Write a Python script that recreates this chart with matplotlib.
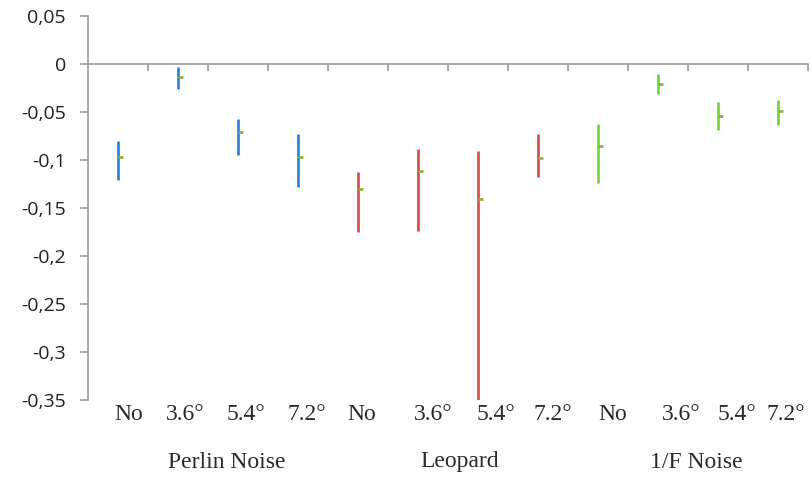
import matplotlib
matplotlib.use("Agg")
import matplotlib.pyplot as plt
from matplotlib.ticker import FixedLocator, FuncFormatter
from matplotlib.markers import TICKRIGHT

plt.rcParams["font.family"] = ["Open Sans", "DejaVu Sans"]

# Data: high-low ranges with a central value per condition
groups = ["Perlin Noise", "Leopard", "1/F Noise"]
conditions = ["No", "3.6°", "5.4°", "7.2°"]
high = [-0.080, -0.003, -0.057, -0.073,
        -0.112, -0.089, -0.091, -0.073,
        -0.062, -0.010, -0.040, -0.037]
low = [-0.121, -0.026, -0.095, -0.128,
       -0.175, -0.174, -0.350, -0.118,
       -0.124, -0.031, -0.069, -0.064]
mid = [-0.097, -0.014, -0.071, -0.097,
       -0.130, -0.111, -0.141, -0.098,
       -0.085, -0.021, -0.054, -0.049]
group_colors = ["#2a7dd4", "#d24a4a", "#6fd43c"]
mid_color = "#8cb43c"

W, H = 812, 479
fig = plt.figure(figsize=(W / 100, H / 100), dpi=100)
ax = fig.add_axes([88 / W, 1 - 400 / H, (808 - 88) / W, (400 - 16) / H])

n_cond = len(conditions)
for i, (hi, lo, md) in enumerate(zip(high, low, mid)):
    x = i + 0.5
    color = group_colors[i // n_cond]
    ax.vlines(x, lo, hi, color=color, linewidth=1.9, clip_on=True, zorder=3)
    ax.plot([x], [md], linestyle="none", marker=TICKRIGHT, markersize=3.4,
            markeredgewidth=2.0, color=mid_color, zorder=4)

ax.set_xlim(0, len(high))
ax.set_ylim(-0.35, 0.05)

axis_gray = "#9a9a9a"
for side in ("top", "right"):
    ax.spines[side].set_visible(False)
ax.spines["left"].set_color(axis_gray)
ax.spines["left"].set_linewidth(1.2)
ax.spines["bottom"].set_position(("data", 0))
ax.spines["bottom"].set_color(axis_gray)
ax.spines["bottom"].set_linewidth(1.2)

ax.yaxis.set_major_locator(FixedLocator([0.05, 0, -0.05, -0.1, -0.15, -0.2, -0.25, -0.3, -0.35]))
ax.yaxis.set_major_formatter(FuncFormatter(lambda v, p: ("%g" % round(v, 2)).replace(".", ",")))
ax.tick_params(axis="y", direction="out", length=6, width=1.2, color=axis_gray,
               pad=10, labelsize=14, labelcolor="#222222")

ax.xaxis.set_major_locator(FixedLocator(list(range(1, len(high) + 1))))
ax.tick_params(axis="x", direction="out", length=5, width=1.2, color=axis_gray,
               labelbottom=False)

# Category labels beneath the plot
cond_label_px = [129, 185, 246, 307, 362, 433, 496, 553, 613, 681, 737, 786]
for k, px in enumerate(cond_label_px):
    fig.text(px / W, 1 - 414 / H, conditions[k % n_cond], ha="center", va="center",
             family="Liberation Serif", fontsize=17, color="#2a2a2a")

group_label_px = [227, 460, 696]
for g, px in zip(groups, group_label_px):
    fig.text(px / W, 1 - 462 / H, g, ha="center", va="center",
             family="Liberation Serif", fontsize=17, color="#2a2a2a")

fig.savefig("out.png", dpi=100, facecolor="white")
